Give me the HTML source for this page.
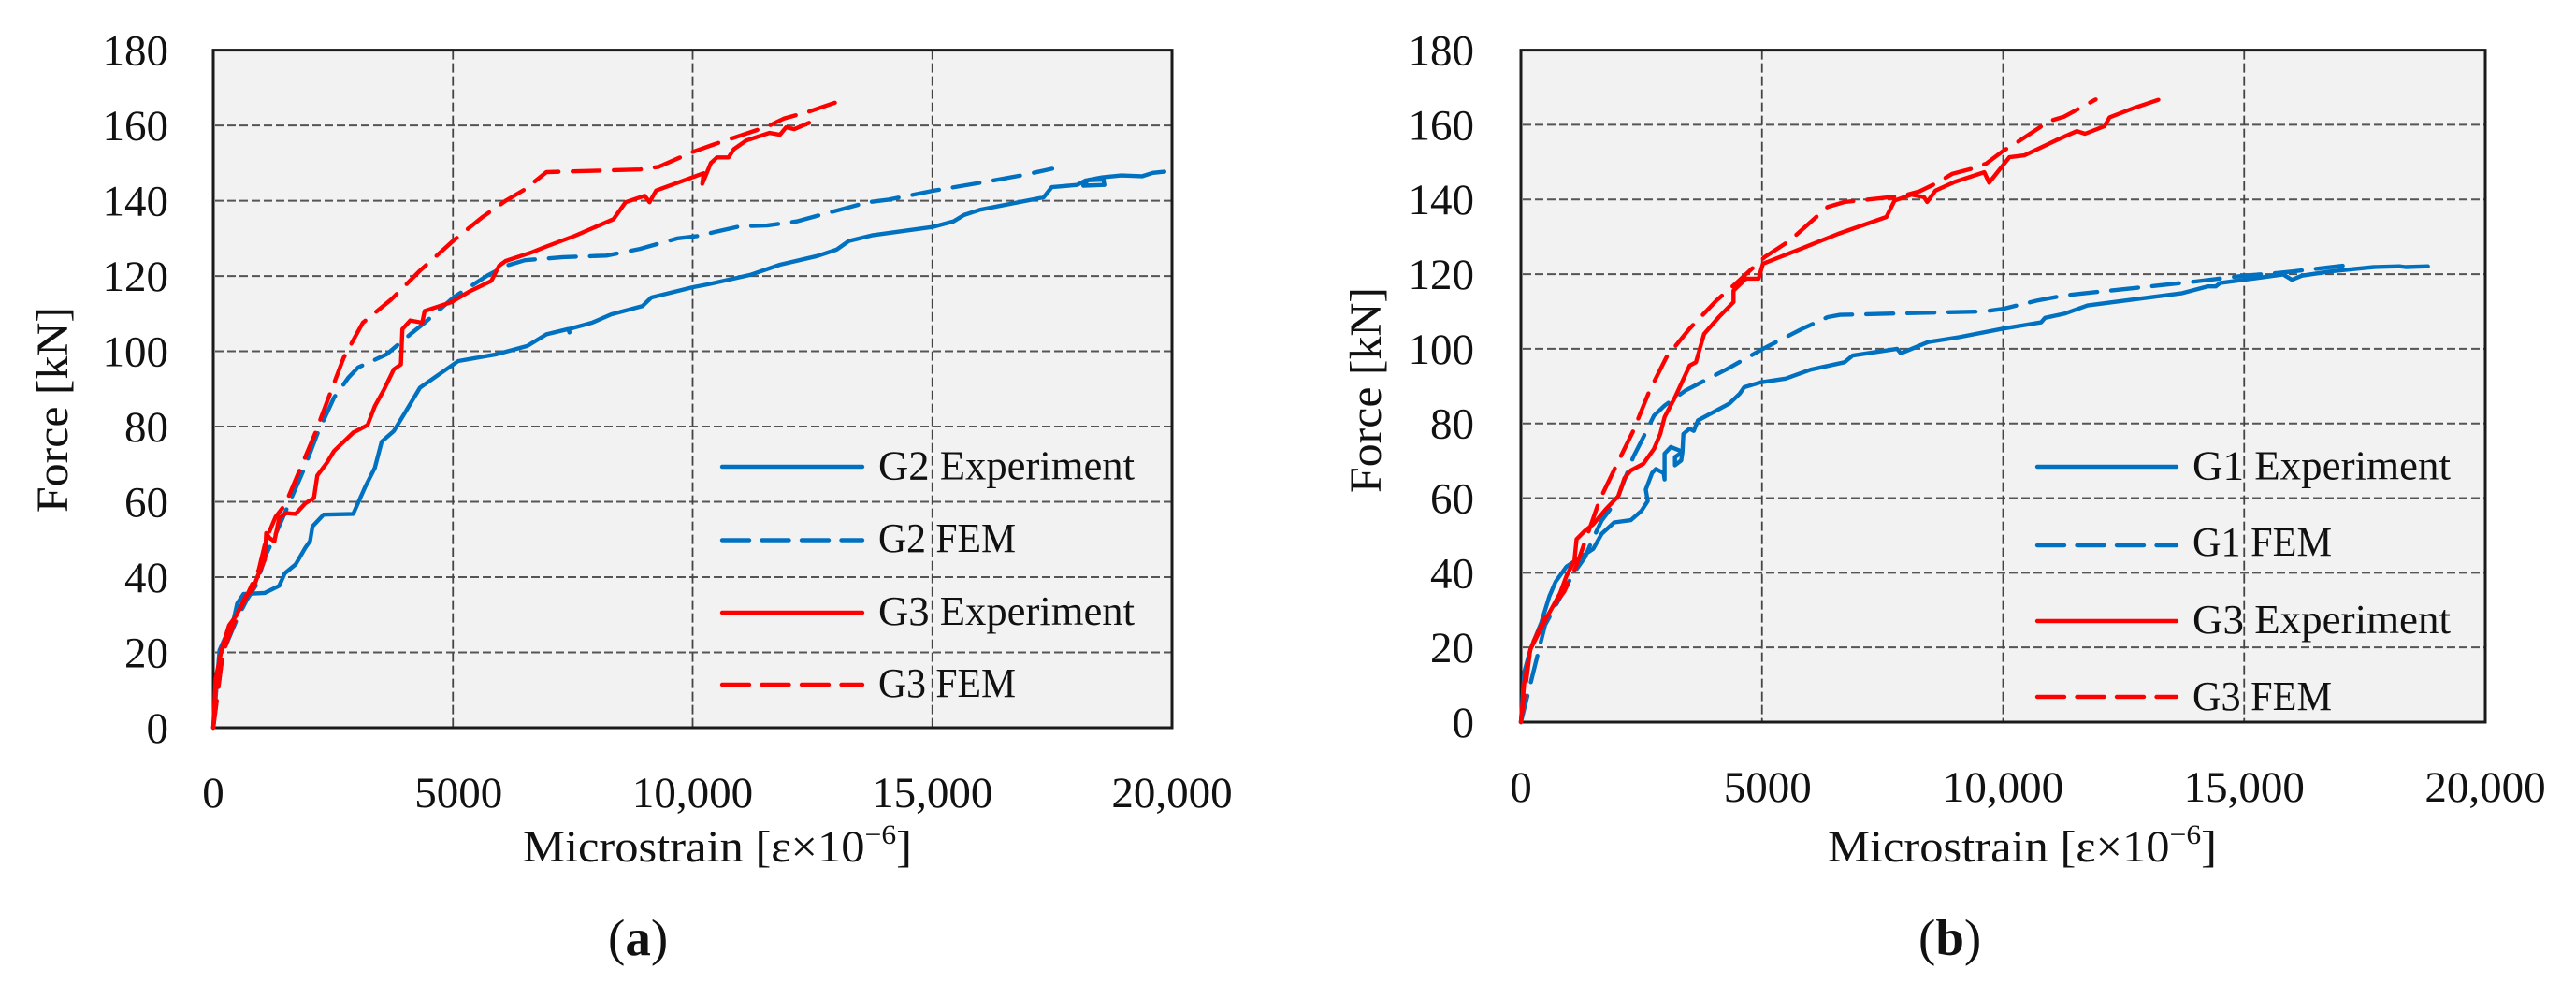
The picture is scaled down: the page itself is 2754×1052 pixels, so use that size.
<!DOCTYPE html>
<html lang="en">
<head>
<meta charset="utf-8">
<title>Force vs microstrain</title>
<style>
html,body{margin:0;padding:0;background:#fff;width:2754px;height:1052px;overflow:hidden}
svg{display:block}
text{font-family:"Liberation Serif",serif;fill:#111}
</style>
</head>
<body>
<svg id="figure" xmlns="http://www.w3.org/2000/svg" width="2754" height="1052" viewBox="0 0 2754 1052">
  <rect x="0" y="0" width="2754" height="1052" fill="#fff"/>
  <g id="panel-a"></g>
  <g id="panel-b"></g>
  <text x="650" y="1021" font-size="55">(<tspan font-weight="bold">a</tspan>)</text>
  <text x="2051" y="1021" font-size="55">(<tspan font-weight="bold">b</tspan>)</text>
</svg>
<script>
const strainTickValues = [0, 5000, 10000, 15000, 20000];
const strainTickLabels = ['0', '5000', '10,000', '15,000', '20,000'];
const forceTickValues = [0, 20, 40, 60, 80, 100, 120, 140, 160, 180];
const forceTickLabels = ['0', '20', '40', '60', '80', '100', '120', '140', '160', '180'];
const strainMax = 20000;
const forceMax = 180;

const a_g2ExpStrain = [0,130,430,500,630,1075,1375,1490,1720,1920,2020,2070,2300,2920,3170,3370,3515,3765,4015,4310,4760,5110,5906,6550,6950,7400,7430,7420,7900,8300,8950,9140,10000,10330,11200,11820,12600,13000,13260,13740,15000,15440,15660,16000,17320,17490,18020,18200,18570,18590,18150,18250,18550,18940,19380,19600,19840];
const a_g2ExpForce = [0,20.6,29,33,35.5,35.8,37.7,41,43.4,47.8,49.6,53.5,56.6,56.8,64,69,76,78.8,84,90.3,94.3,97.4,99.2,101.4,104.5,105.9,105,105.9,107.6,109.8,112,114.3,117,117.8,120.3,123,125.3,127,129.3,130.8,133,134.5,136.2,137.6,140.9,143.6,144.2,145.4,145.6,144.2,144,145.5,146.2,146.7,146.5,147.4,147.7];
const a_g2FemStrain = [0,200,500,700,900,1100,1250,1570,1870,2170,2520,2820,3020,3615,4110,4410,5010,5700,6100,6500,7300,8200,8900,9690,10090,10990,11550,12170,12690,13650,14090,15000,16190,16890,17500];
const a_g2FemForce = [0,20,29,34,38,46,50,59.3,68,78,87.7,93,95.7,99.2,104.5,107.6,114.3,120,122.7,124.2,125,125.4,127.2,130,130.6,133.2,133.4,134.5,136.3,139.6,140.3,142.6,145.2,146.8,148.5];
const a_g3ExpStrain = [0,50,180,330,480,680,830,930,1075,1105,1175,1275,1375,1525,1720,1920,2100,2170,2370,2520,2920,3220,3370,3565,3765,3915,3945,4110,4360,4410,4960,5360,5800,5960,6100,6650,6900,7550,8350,8600,9000,9100,9240,10230,10200,10380,10510,10750,10860,11120,11600,11820,11950,12120,12430];
const a_g3ExpForce = [0,13,21,27.2,29.8,35,36.8,40.4,44.7,51.7,50.4,49.5,55.7,57,56.8,59.6,61,67,70.4,73.5,78.4,80.4,85.4,89.9,95.2,96.5,105.9,108.2,107.6,110.7,113,116,118.7,122.7,124,126.3,127.6,130.7,135.1,139.6,141.3,139.6,142.7,147.3,144.5,150,151.5,151.5,153.7,156,158,157.5,159.5,159,160.7];
const a_g3FemStrain = [0,200,500,700,950,1100,1300,1500,2120,2720,3120,3715,4310,5010,5610,6100,6500,6950,8900,9290,9990,10500,11560,11900,12430,13170];
const a_g3FemForce = [0,20,30,35,42,50,56,59.3,78,98.3,107.6,113.8,121.4,129.4,135.6,140,143,147.6,148.3,149,152.9,155.2,159.7,161.8,163.7,166.9];

const b_g1ExpStrain = [0,70,200,420,590,720,940,1240,1500,1675,1935,2280,2500,2630,2590,2720,2800,2960,2980,2980,3110,3280,3350,3325,3195,3195,3350,3370,3500,3585,3670,4320,4540,4630,4970,5490,6010,6710,6880,7800,7880,8445,9080,10000,10790,10870,11270,11750,13715,14240,14410,14500,15000,15810,15990,16200,16820,17690,18220,18350,18810];
const b_g1ExpForce = [0,13.4,19.6,26.6,33.7,37.6,41.6,44.2,46.4,50.4,53.5,54.1,56.6,59.2,62.3,66.7,67.8,66.7,65,71.9,73.7,72.8,72.3,70.1,68.8,71,72.3,77.2,78.6,78,80.8,85.3,88,89.7,91,92,94.4,96.4,98.2,100,98.8,101.8,103.1,105.4,107.1,108.3,109.4,111.6,114.9,116.7,116.7,117.6,118.5,119.9,118.5,119.6,120.8,121.9,122.1,121.9,122.1];
const b_g1FemStrain = [0,500,900,1070,1330,1460,1675,1980,2330,2540,2760,2980,3410,4280,5020,5840,6360,6620,8210,9600,10000,10700,11270,12750,13980,15000,15680,15990,17210];
const b_g1FemForce = [0,26,35.4,39.4,44.2,48.2,54,59.2,71,76.3,82.1,84.8,88.8,94.6,100,105.4,108.5,109.1,109.6,110,110.7,112.9,114.3,116.3,118,119.6,120.3,120.7,122.5];
const b_g3ExpStrain = [0,70,200,550,810,940,1110,1155,1330,1500,1760,2020,2150,2280,2540,2760,2890,2980,3195,3500,3630,3800,4105,4410,4410,4670,4930,5020,5710,6580,7580,7750,8100,8360,8425,8600,8995,9610,9710,10130,10440,11090,11530,11700,12100,12210,12710,13220];
const b_g3ExpForce = [0,10.7,19.6,28.4,34.5,39,43.3,49,51.3,53,57,60.5,65.4,67.4,69.2,73.2,77.2,81.7,87,95.5,96.4,104,108.5,112.5,115.6,118.8,118.8,122.8,126.3,130.8,135.3,139.7,141.3,140.6,139.3,142.4,144.7,147.3,144.5,151.3,151.8,155.8,158.3,157.6,159.6,162,164.5,166.7];
const b_g3FemStrain = [0,200,500,900,1155,1500,1630,1980,2330,2670,3020,3500,4060,4450,5060,5580,6360,6710,7920,8270,8620,8950,9345,9650,10000,10300,10960,11270,11920];
const b_g3FemForce = [0,20,28,35,42,54.6,59.4,68.8,78,88.8,97.8,105.4,113,117.4,124.6,129,138,139.3,141,142.2,144.4,146.9,148.2,149.6,153,155.4,161,162.2,166.8];

const SVG_NS = 'http://www.w3.org/2000/svg';
function make(tag, attrs, parent) {
  const el = document.createElementNS(SVG_NS, tag);
  for (const k in attrs) el.setAttribute(k, attrs[k]);
  parent.appendChild(el);
  return el;
}

function drawPanel(parent, cfg) {
  const xScale = v => cfg.left + (v / strainMax) * cfg.width;
  const yScale = v => cfg.bottom - (v / forceMax) * (cfg.bottom - cfg.top);

  const bg = make('rect', {x: cfg.left, y: cfg.top, width: cfg.width, height: cfg.bottom - cfg.top, fill: '#f2f2f2'}, parent);
  
  

  forceTickValues.forEach((v, i) => {
    if (v !== 0 && v !== forceMax) {
      const g = make('line', {x1: cfg.left + 2, x2: cfg.left + cfg.width, y1: yScale(v), y2: yScale(v), stroke: '#555', 'stroke-width': 2, 'stroke-dasharray': '9 4'}, parent);
      
      
    }
    const t = make('text', {x: cfg.yTickX, y: yScale(v) + 16, 'text-anchor': 'end', 'font-size': 47}, parent);
    
    
    t.textContent = forceTickLabels[i];
  });

  strainTickValues.forEach((v, i) => {
    if (v !== 0 && v !== strainMax) {
      const g = make('line', {x1: xScale(v), x2: xScale(v), y1: cfg.top, y2: cfg.bottom, stroke: '#444', 'stroke-width': 1.8, 'stroke-dasharray': '10 4'}, parent);
      
      
    }
    const shift = v === 5000 ? 6 : 0;
    const t = make('text', {x: xScale(v) + shift, y: cfg.xTickY, 'text-anchor': 'middle', 'font-size': 47}, parent);
    
    
    t.textContent = strainTickLabels[i];
  });

  const frame = make('rect', {x: cfg.left, y: cfg.top, width: cfg.width, height: cfg.bottom - cfg.top, fill: 'none', stroke: '#1a1a1a', 'stroke-width': 3}, parent);
  
  

  cfg.series.forEach(s => {
    const pts = s.strain.map((x, i) => xScale(x).toFixed(1) + ',' + yScale(s.force[i]).toFixed(1)).join(' ');
    const line = make('polyline', {points: pts, fill: 'none', stroke: s.color, 'stroke-width': 4.4, 'stroke-linejoin': 'round', 'stroke-linecap': 'round'}, parent);
    if (s.dashed) line.setAttribute('stroke-dasharray', '29 15');
    
    
  });

  const yt = make('text', {x: 0, y: 0, transform: 'translate(' + cfg.yTitleX + ',' + cfg.yTitleY + ') rotate(-90)', 'text-anchor': 'middle', 'font-size': 48, textLength: 220, lengthAdjust: 'spacingAndGlyphs'}, parent);
  
  
  yt.textContent = 'Force [kN]';

  const xt = make('text', {x: cfg.xTitleX, y: 921, 'font-size': 48, textLength: 416, lengthAdjust: 'spacingAndGlyphs'}, parent);
  
  
  xt.appendChild(document.createTextNode('Microstrain [ε×10'));
  const sup = make('tspan', {dy: -19, 'font-size': 30}, xt);
  sup.textContent = '−6';
  const close = make('tspan', {dy: 19}, xt);
  close.textContent = ']';

  cfg.legend.forEach(e => {
    const ln = make('line', {x1: cfg.legendX1, x2: cfg.legendX2, y1: e.y, y2: e.y, stroke: e.color, 'stroke-width': 4.4, 'stroke-linecap': 'round'}, parent);
    if (e.dashed) ln.setAttribute('stroke-dasharray', '29 13.5');
    
    
    const t = make('text', {x: cfg.legendTextX, y: e.baseline, 'font-size': 44, textLength: e.w, lengthAdjust: 'spacingAndGlyphs'}, parent);
    
    
    t.textContent = e.label;
  });
}

const BLUE = '#0070c0';
const RED = '#ff0000';

drawPanel(document.getElementById('panel-a'), {
  left: 228, width: 1025, top: 53.6, bottom: 778,
  yTickX: 180, xTickY: 863, yTitleX: 72, yTitleY: 438, xTitleX: 559,
  legendX1: 772, legendX2: 922, legendTextX: 939,
  series: [
    {name: 'g2-experiment-line', strain: a_g2ExpStrain, force: a_g2ExpForce, color: BLUE, dashed: false},
    {name: 'g2-fem-line', strain: a_g2FemStrain, force: a_g2FemForce, color: BLUE, dashed: true},
    {name: 'g3-experiment-line', strain: a_g3ExpStrain, force: a_g3ExpForce, color: RED, dashed: false},
    {name: 'g3-fem-line', strain: a_g3FemStrain, force: a_g3FemForce, color: RED, dashed: true}
  ],
  legend: [
    {label: 'G2 Experiment', y: 499, baseline: 512.5, w: 274, color: BLUE, dashed: false},
    {label: 'G2 FEM', y: 577.5, baseline: 590, w: 147, color: BLUE, dashed: true},
    {label: 'G3 Experiment', y: 655, baseline: 668, w: 274, color: RED, dashed: false},
    {label: 'G3 FEM', y: 732, baseline: 745, w: 147, color: RED, dashed: true}
  ]
});

drawPanel(document.getElementById('panel-b'), {
  left: 1626, width: 1031, top: 53.6, bottom: 772,
  yTickX: 1576, xTickY: 857, yTitleX: 1476, yTitleY: 417, xTitleX: 1954,
  legendX1: 2178, legendX2: 2327, legendTextX: 2344,
  series: [
    {name: 'g1-experiment-line', strain: b_g1ExpStrain, force: b_g1ExpForce, color: BLUE, dashed: false},
    {name: 'g1-fem-line', strain: b_g1FemStrain, force: b_g1FemForce, color: BLUE, dashed: true},
    {name: 'g3-experiment-line', strain: b_g3ExpStrain, force: b_g3ExpForce, color: RED, dashed: false},
    {name: 'g3-fem-line', strain: b_g3FemStrain, force: b_g3FemForce, color: RED, dashed: true}
  ],
  legend: [
    {label: 'G1 Experiment', y: 499, baseline: 512.5, w: 276, color: BLUE, dashed: false},
    {label: 'G1 FEM', y: 583, baseline: 594, w: 149, color: BLUE, dashed: true},
    {label: 'G3 Experiment', y: 664, baseline: 677, w: 276, color: RED, dashed: false},
    {label: 'G3 FEM', y: 745, baseline: 759, w: 149, color: RED, dashed: true}
  ]
});
</script>
</body>
</html>
